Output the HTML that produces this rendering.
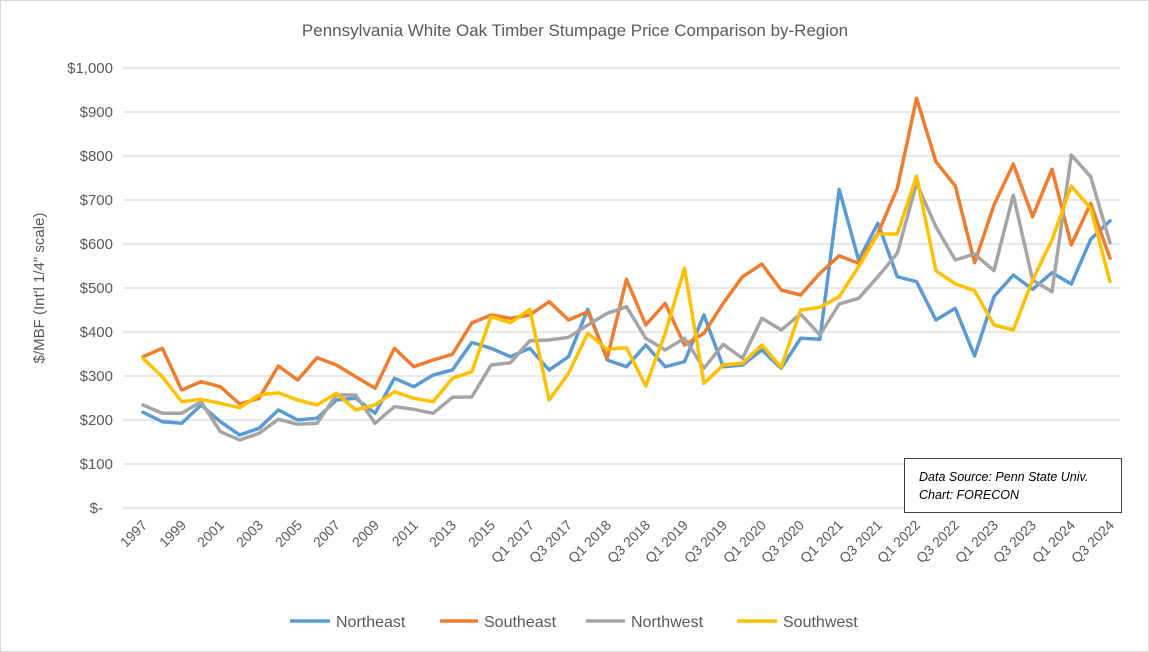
<!DOCTYPE html>
<html><head><meta charset="utf-8"><style>
html,body{margin:0;padding:0;background:#fff;}
svg{display:block;font-family:"Liberation Sans",Calibri,sans-serif;}
</style></head><body>
<svg width="1149" height="652" viewBox="0 0 1149 652" xmlns="http://www.w3.org/2000/svg">
<rect x="0.5" y="0.5" width="1148" height="651" fill="#fff" stroke="#d9d9d9"/>
<text x="575" y="36" text-anchor="middle" font-size="17" fill="#595959">Pennsylvania White Oak Timber Stumpage Price Comparison by-Region</text>
<g stroke="#d9d9d9" stroke-width="1.3">
<line x1="123" y1="68" x2="1120" y2="68"/><line x1="123" y1="112" x2="1120" y2="112"/>
<line x1="123" y1="156" x2="1120" y2="156"/><line x1="123" y1="200" x2="1120" y2="200"/>
<line x1="123" y1="244" x2="1120" y2="244"/><line x1="123" y1="288" x2="1120" y2="288"/>
<line x1="123" y1="332" x2="1120" y2="332"/><line x1="123" y1="376" x2="1120" y2="376"/>
<line x1="123" y1="420" x2="1120" y2="420"/><line x1="123" y1="464" x2="1120" y2="464"/>
<line x1="123" y1="508" x2="1120" y2="508"/>
</g>
<g font-size="15" fill="#595959" text-anchor="end">
<text x="113" y="73">$1,000</text><text x="113" y="117">$900</text><text x="113" y="161">$800</text>
<text x="113" y="205">$700</text><text x="113" y="249">$600</text><text x="113" y="293">$500</text>
<text x="113" y="337">$400</text><text x="113" y="381">$300</text><text x="113" y="425">$200</text>
<text x="113" y="469">$100</text><text x="103" y="513">$-</text>
</g>
<text transform="translate(44,288) rotate(-90)" text-anchor="middle" font-size="15" fill="#595959">$/MBF (Int'l 1/4" scale)</text>
<g font-size="14" fill="#595959" text-anchor="end">
<text transform="translate(148,526) rotate(-45)">1997</text>
<text transform="translate(187,526) rotate(-45)">1999</text>
<text transform="translate(225,526) rotate(-45)">2001</text>
<text transform="translate(264,526) rotate(-45)">2003</text>
<text transform="translate(303,526) rotate(-45)">2005</text>
<text transform="translate(341,526) rotate(-45)">2007</text>
<text transform="translate(380,526) rotate(-45)">2009</text>
<text transform="translate(419,526) rotate(-45)">2011</text>
<text transform="translate(457,526) rotate(-45)">2013</text>
<text transform="translate(496,526) rotate(-45)">2015</text>
<text transform="translate(535,526) rotate(-45)">Q1 2017</text>
<text transform="translate(573,526) rotate(-45)">Q3 2017</text>
<text transform="translate(612,526) rotate(-45)">Q1 2018</text>
<text transform="translate(651,526) rotate(-45)">Q3 2018</text>
<text transform="translate(689,526) rotate(-45)">Q1 2019</text>
<text transform="translate(728,526) rotate(-45)">Q3 2019</text>
<text transform="translate(767,526) rotate(-45)">Q1 2020</text>
<text transform="translate(805,526) rotate(-45)">Q3 2020</text>
<text transform="translate(844,526) rotate(-45)">Q1 2021</text>
<text transform="translate(883,526) rotate(-45)">Q3 2021</text>
<text transform="translate(921,526) rotate(-45)">Q1 2022</text>
<text transform="translate(960,526) rotate(-45)">Q3 2022</text>
<text transform="translate(999,526) rotate(-45)">Q1 2023</text>
<text transform="translate(1037,526) rotate(-45)">Q3 2023</text>
<text transform="translate(1076,526) rotate(-45)">Q1 2024</text>
<text transform="translate(1115,526) rotate(-45)">Q3 2024</text>
</g>
<g fill="none" stroke-width="3.5" stroke-linejoin="round" stroke-linecap="round">
<polyline stroke="#5b9bd5" points="143,412.3 162.3,421.7 181.7,423.3 201,405 220.4,421.7 239.7,435 259,428.3 278.4,410 297.7,420 317.1,418.3 336.4,400 355.7,398.3 375.1,413.3 394.4,378.3 413.8,386.7 433.1,375 452.4,370 471.8,342.5 491.1,348.3 510.5,356.7 529.8,348.3 549.1,370 568.5,356.7 587.8,309.3 607.2,360 626.5,366.7 645.8,345 665.2,366.7 684.5,361.7 703.9,315 723.2,366.7 742.5,365 761.9,350 781.2,368.3 800.6,338.3 819.9,339.3 839.2,189.3 858.6,260 877.9,223.3 897.3,276.7 916.6,281.7 935.9,320 955.3,308.3 974.6,356 994,296.7 1013.3,275 1032.6,289.3 1052,272.7 1071.3,284 1090.7,239.3 1110,220.7"/>
<polyline stroke="#ed7d31" points="143,356.7 162.3,348.3 181.7,390 201,381.7 220.4,386.7 239.7,404 259,398.3 278.4,366 297.7,380 317.1,357.7 336.4,365 355.7,376.7 375.1,388.3 394.4,348.3 413.8,366.7 433.1,360 452.4,354.3 471.8,323 491.1,315 510.5,318.3 529.8,315 549.1,301.7 568.5,320 587.8,311.7 607.2,358.3 626.5,279.3 645.8,325 665.2,303.3 684.5,345 703.9,333.3 723.2,303.3 742.5,276.7 761.9,264 781.2,290 800.6,295 819.9,273.3 839.2,255.7 858.6,263.3 877.9,233.3 897.3,188.3 916.6,98.3 935.9,161.7 955.3,186 974.6,262.7 994,205 1013.3,164 1032.6,216.7 1052,169.3 1071.3,245 1090.7,203.3 1110,258.3"/>
<polyline stroke="#a5a5a5" points="143,405 162.3,413.3 181.7,413.3 201,401.7 220.4,431.7 239.7,440 259,433.3 278.4,419.3 297.7,424.3 317.1,423.3 336.4,395 355.7,395 375.1,423.3 394.4,406.7 413.8,409.3 433.1,413.3 452.4,397.3 471.8,397 491.1,365 510.5,362.7 529.8,340.7 549.1,340 568.5,337.3 587.8,325 607.2,313.3 626.5,306.7 645.8,338.3 665.2,350 684.5,338.3 703.9,368.3 723.2,344.3 742.5,358.3 761.9,318.3 781.2,330 800.6,314 819.9,335 839.2,304 858.6,298.3 877.9,276.7 897.3,253.3 916.6,183.3 935.9,226.7 955.3,260 974.6,254 994,270.7 1013.3,195 1032.6,280 1052,291.7 1071.3,155 1090.7,176.7 1110,242.7"/>
<polyline stroke="#ffc000" points="143,358.3 162.3,376.7 181.7,401.7 201,399.3 220.4,403.3 239.7,407.7 259,395 278.4,392.7 297.7,400 317.1,405 336.4,393.3 355.7,410 375.1,405 394.4,391.7 413.8,398.3 433.1,401.7 452.4,378.3 471.8,371.7 491.1,316.7 510.5,322.7 529.8,309.3 549.1,400 568.5,373.3 587.8,333.3 607.2,349.3 626.5,347.7 645.8,386 665.2,333.3 684.5,268.3 703.9,383.3 723.2,365 742.5,363.3 761.9,345 781.2,367.3 800.6,310 819.9,307.3 839.2,296.7 858.6,266.7 877.9,234 897.3,234 916.6,176 935.9,270.7 955.3,284 974.6,290.7 994,325 1013.3,330 1032.6,280 1052,240 1071.3,186 1090.7,208.3 1110,281.7"/>
</g>
<rect x="904.5" y="458.5" width="217" height="54" fill="#fff" stroke="#404040" stroke-width="1"/>
<g font-size="12.5" font-style="italic" fill="#000">
<text x="919" y="481">Data Source: Penn State Univ.</text>
<text x="919" y="499">Chart: FORECON</text>
</g>
<g stroke-width="3.5">
<line x1="290" y1="621" x2="330" y2="621" stroke="#5b9bd5"/>
<line x1="440" y1="621" x2="478" y2="621" stroke="#ed7d31"/>
<line x1="586" y1="621" x2="625" y2="621" stroke="#a5a5a5"/>
<line x1="737" y1="621" x2="777" y2="621" stroke="#ffc000"/>
</g>
<g font-size="16" fill="#595959">
<text x="336" y="627">Northeast</text>
<text x="484" y="627">Southeast</text>
<text x="631" y="627">Northwest</text>
<text x="783" y="627">Southwest</text>
</g>
</svg>
</body></html>
